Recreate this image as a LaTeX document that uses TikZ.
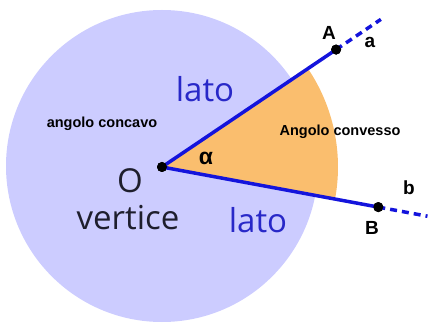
\documentclass[tikz,border=0pt]{standalone}
\usepackage{fontspec}
\setmainfont{Liberation Sans}
\newfontfamily\opensans{Open Sans}
\usetikzlibrary{calc}
\definecolor{lav}{RGB}{204,204,255}
\definecolor{orng}{RGB}{250,190,110}
\definecolor{lineblue}{RGB}{20,20,220}
\definecolor{txtblue}{RGB}{40,40,200}
\definecolor{txtdark}{RGB}{30,30,45}
\tikzset{
  side/.style={lineblue, line width=3.5pt},
  ext/.style={lineblue, line width=3.5pt, dash pattern=on 7pt off 5pt},
  pt/.style={circle, fill=black, inner sep=0pt, minimum size=10pt},
  big/.style={font=\opensans\fontsize{33}{36}\selectfont, inner sep=0pt},
  lbl/.style={font=\bfseries\fontsize{14.5}{16}\selectfont, inner sep=0pt},
  letter/.style={font=\bfseries\fontsize{19}{21}\selectfont, inner sep=0pt}
}
\begin{document}
\begin{tikzpicture}[x=1pt,y=1pt]
\useasboundingbox (0,0) rectangle (428,324);
\coordinate (C) at (162,158);
\fill[lav] (C) circle[radius=156pt];
\coordinate (Oc) at (162,157);
\fill[orng] (Oc) -- ++(-10.5:176pt) arc[start angle=-10.5, end angle=34, radius=176pt] -- cycle;
\node[pt] (O) at (162,157) {};
\node[pt] (A) at ($(O)+(34:210pt)$) {};
\node[pt] (B) at ($(O)+(-10.5:220pt)$) {};
\coordinate (ae) at ($(O)+(34:264pt)$);
\coordinate (be) at ($(O)+(-10.5:270pt)$);
\draw[side] (O.center) -- (A.center);
\draw[side] (O.center) -- (B.center);
\draw[ext] (A.center) -- (ae);
\draw[ext] (B.center) -- (be);
\node[pt] at (O) {};
\node[pt] at (A) {};
\node[pt] at (B) {};
\node[big, txtblue, anchor=base] (l1) at (205,222) {lato};
\node[big, txtblue, anchor=base] (l2) at (258,92) {lato};
\node[big, txtdark, anchor=base] (ov) at (130,131) {O};
\node[big, txtdark, anchor=base] (vt) at (128,94) {vertice};
\node[lbl] (cc) at (102,200) {angolo concavo};
\node[lbl] (cv) at (340,192) {Angolo convesso};
\node[letter] (la) at (329,291) {A};
\node[letter] (lsa) at (370,282) {a};
\node[letter] (lb) at (372,96) {B};
\node[letter] (lsb) at (409,136) {b};
\node[font=\bfseries\fontsize{23}{25}\selectfont, inner sep=0pt] (al) at (206,166) {α};
\end{tikzpicture}
\end{document}
